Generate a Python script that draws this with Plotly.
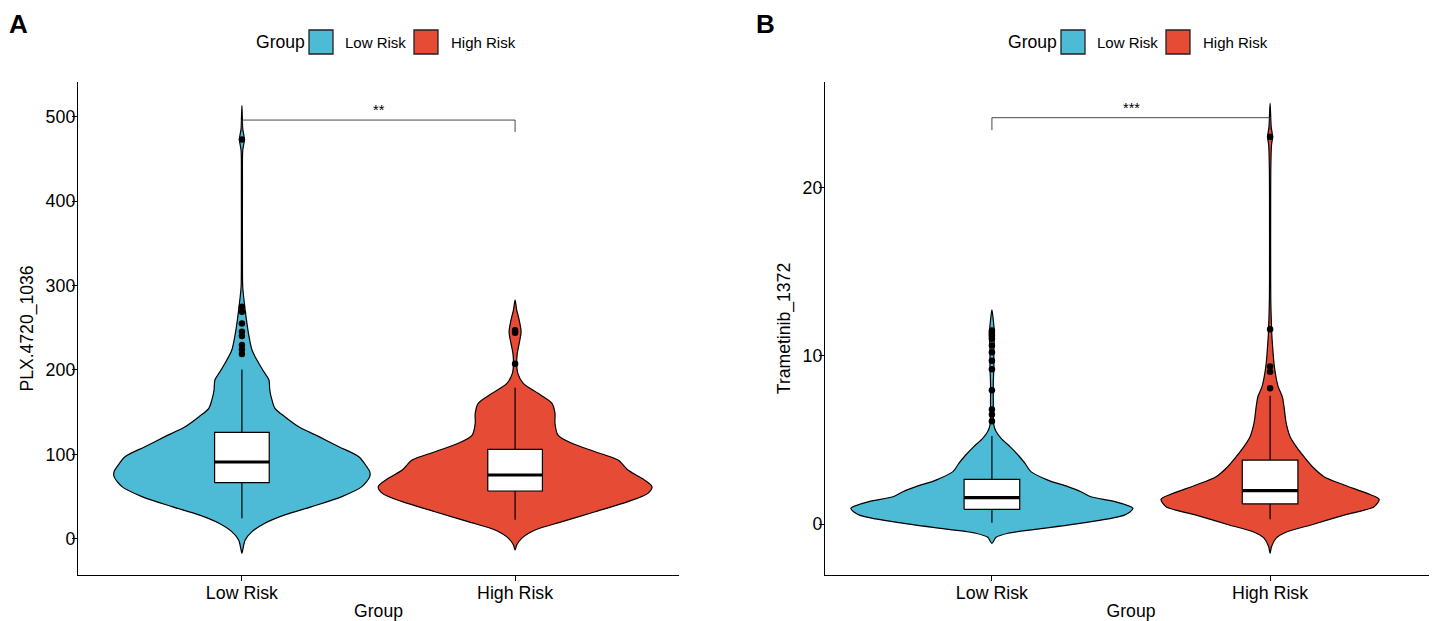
import plotly.graph_objects as go

# the page puts an 8px body margin round the figure, so the figure is drawn
# 8px smaller and all pixel positions below are page pixels minus that offset
OFF = 8
W, H = 1437 - OFF, 621 - OFF
FONT = "Liberation Sans, Arial, sans-serif"


def xp(px):
    return (px - OFF) / W


def yp(py):
    return 1 - (py - OFF) / H


groups = ["Low Risk", "High Risk"]
group_pos = [1, 2]
fill_colors = ["#4DBBD5", "#E64B35"]

# violin outlines: value levels and half widths (in x units)
a_low_y = [-17.3, -13.3, -1.5, 8.4, 18.3, 28.2, 38.0, 49.9, 61.7, 73.6, 79.4, 85.3,
           97.2, 109.0, 120.9, 132.7, 144.6, 154.5, 164.4, 176.1, 188.0, 197.9,
           211.7, 223.5, 243.3, 270.9, 298.6, 330, 420, 460, 473, 486, 500, 513]
a_low_w = [0, 0.003, 0.012, 0.037, 0.084, 0.157, 0.256, 0.366, 0.439, 0.468, 0.468, 0.457,
           0.428, 0.355, 0.282, 0.208, 0.157, 0.121, 0.110, 0.102, 0.099, 0.080,
           0.055, 0.037, 0.024, 0.012, 0.003, 0.002, 0.002, 0.003, 0.009, 0.003, 0.0015, 0]

a_high_y = [-13.4, -7.5, 0.4, 10.3, 20.2, 32.0, 43.9, 53.7, 61.6, 71.5, 81.4, 93.2,
            103.1, 113.0, 122.8, 136.6, 148.5, 160.4, 172.2, 184.1, 195.9, 207.7,
            219.6, 231.4, 245.2, 259.0, 270.9, 282.7]
a_high_w = [0, 0.006, 0.024, 0.073, 0.172, 0.293, 0.413, 0.486, 0.501, 0.464, 0.413, 0.377,
            0.293, 0.208, 0.157, 0.146, 0.146, 0.135, 0.084, 0.030, 0.010, 0.006,
            0.008, 0.015, 0.022, 0.015, 0.006, 0]

b_low_y = [-1.15, -0.79, -0.55, -0.32, 0.08, 0.54, 0.93, 1.33, 1.62, 1.92, 2.22, 2.61,
           3.11, 3.6, 4.1, 4.6, 5.09, 5.49, 5.88, 7.37, 8.36, 9.35, 10.34, 11.33, 12.12, 12.72]
b_low_w = [0, 0.015, 0.058, 0.155, 0.335, 0.478, 0.507, 0.442, 0.356, 0.320, 0.273, 0.201,
           0.140, 0.119, 0.094, 0.065, 0.033, 0.015, 0.007, 0.005, 0.005, 0.007, 0.007,
           0.009, 0.005, 0]

b_high_y = [-1.74, -1.35, -0.85, -0.46, -0.06, 0.53, 1.03, 1.47, 1.82, 2.32, 2.81, 3.31,
            4.0, 4.6, 5.19, 5.98, 6.97, 7.56, 8.16, 8.75, 9.55, 10.34, 11.33, 12.32,
            13.31, 15.0, 18.0, 21.0, 22.5, 23.0, 23.6, 25.0]
b_high_w = [0, 0.005, 0.021, 0.061, 0.147, 0.266, 0.374, 0.392, 0.349, 0.266, 0.194, 0.158,
            0.122, 0.094, 0.072, 0.058, 0.050, 0.044, 0.029, 0.021, 0.014, 0.010, 0.006,
            0.004, 0.0025, 0.002, 0.002, 0.0025, 0.005, 0.009, 0.004, 0]

# box statistics [Low Risk, High Risk]
a_q1 = [66.4, 56.5]
a_med = [90.9, 75.5]
a_q3 = [126.0, 105.9]
a_lo = [24.1, 22.5]
a_hi = [200.4, 178.9]

b_q1 = [0.87, 1.19]
b_med = [1.57, 1.98]
b_q3 = [2.65, 3.80]
b_lo = [0.08, 0.28]
b_hi = [5.23, 7.62]

# outliers
a_low_out = [473, 274.9, 269, 255.1, 245.2, 240.1, 229.4, 224.3, 218.7]
a_high_out = [247, 244, 207.3]
b_low_out = [11.5, 11.35, 11.2, 11.0, 10.6, 10.2, 9.7, 9.2, 7.95, 6.8, 6.5, 6.1]
b_high_out = [23.0, 11.57, 9.35, 9.05, 8.06]

# significance brackets
a_sig_top, a_sig_tip, a_sig_label = 496, 482, "**"
b_sig_top, b_sig_tip, b_sig_label = 24.14, 23.4, "***"

a_yticks = [0, 100, 200, 300, 400, 500]
b_yticks = [0, 10, 20]

BOX_W = 0.2

fig = go.Figure()


def violin_xy(center, ys, ws):
    xs = [center + w for w in ws] + [center - w for w in reversed(ws[1:-1])] + [center]
    yy = list(ys) + list(reversed(ys[1:-1])) + [ys[0]]
    return xs, yy


def add_panel(xa, ya, outlines, q1, med, q3, lo, hi, outs, sig):
    common = dict(xaxis=xa, yaxis=ya, hoverinfo="skip", showlegend=False)
    for i, (ys, ws) in enumerate(outlines):
        xs, yy = violin_xy(group_pos[i], ys, ws)
        fig.add_trace(go.Scatter(
            x=xs, y=yy, mode="lines", fill="toself", fillcolor=fill_colors[i],
            line=dict(color="black", width=1.2, shape="spline", smoothing=0.8), **common))
    for i in range(2):
        p = group_pos[i]
        l, r = p - BOX_W / 2, p + BOX_W / 2
        # whiskers
        fig.add_trace(go.Scatter(
            x=[p, p, None, p, p], y=[lo[i], q1[i], None, q3[i], hi[i]], mode="lines",
            line=dict(color="black", width=1.2), **common))
        # box body
        fig.add_trace(go.Scatter(
            x=[l, r, r, l, l], y=[q1[i], q1[i], q3[i], q3[i], q1[i]], mode="lines",
            fill="toself", fillcolor="white", line=dict(color="black", width=1.2), **common))
        # median
        fig.add_trace(go.Scatter(
            x=[l, r], y=[med[i], med[i]], mode="lines",
            line=dict(color="black", width=3.2), **common))
        fig.add_trace(go.Scatter(
            x=[p] * len(outs[i]), y=outs[i], mode="markers",
            marker=dict(color="black", size=6.5), **common))
    top, tip, label = sig
    fig.add_trace(go.Scatter(
        x=[group_pos[0], group_pos[0], group_pos[1], group_pos[1]],
        y=[tip, top, top, tip], mode="lines",
        line=dict(color="#333333", width=0.9), **common))
    fig.add_annotation(x=(group_pos[0] + group_pos[1]) / 2, y=top, xref=xa, yref=ya,
                       text=label, showarrow=False, yanchor="bottom",
                       font=dict(size=14.5, color="black"))


add_panel("x", "y", [(a_low_y, a_low_w), (a_high_y, a_high_w)],
          a_q1, a_med, a_q3, a_lo, a_hi, [a_low_out, a_high_out],
          (a_sig_top, a_sig_tip, a_sig_label))
add_panel("x2", "y2", [(b_low_y, b_low_w), (b_high_y, b_high_w)],
          b_q1, b_med, b_q3, b_lo, b_hi, [b_low_out, b_high_out],
          (b_sig_top, b_sig_tip, b_sig_label))

axis_style = dict(
    showline=True, linecolor="black", linewidth=1.3, ticks="outside", ticklen=5,
    tickwidth=1.3, tickcolor="black", showgrid=False, zeroline=False,
    tickfont=dict(size=17.8, color="black"), fixedrange=True,
)
x_style = dict(axis_style, ticklabelstandoff=-4)
y_style = dict(axis_style, ticklabelstandoff=-7)

y_dom = [yp(575), yp(82)]
fig.update_layout(
    width=W, height=H, margin=dict(l=0, r=0, t=0, b=0),
    paper_bgcolor="white", plot_bgcolor="white",
    font=dict(family=FONT, color="black"),
    xaxis=dict(x_style, domain=[xp(78), xp(679)], range=[0.4, 2.6], anchor="y",
               tickvals=group_pos, ticktext=groups,
               title=dict(text="Group", font=dict(size=17.6), standoff=5)),
    yaxis=dict(y_style, domain=y_dom, range=[-43, 541.1], anchor="x",
               tickvals=a_yticks,
               title=dict(text="PLX.4720_1036", font=dict(size=17.6), standoff=7)),
    xaxis2=dict(x_style, domain=[xp(825), 1.0], range=[0.4, 2.6], anchor="y2",
                tickvals=group_pos, ticktext=groups,
                title=dict(text="Group", font=dict(size=17.6), standoff=5)),
    yaxis2=dict(y_style, domain=y_dom, range=[-3.03, 26.26], anchor="x2",
                tickvals=b_yticks,
                title=dict(text="Trametinib_1372", font=dict(size=17.6), standoff=7)),
    showlegend=False,
)

# panel letters
for letter, px in [("A", 8), ("B", 755)]:
    fig.add_annotation(x=xp(px), y=1, xref="paper", yref="paper",
                       xanchor="left", yanchor="top", showarrow=False, borderpad=0,
                       text=f"<b>{letter}</b>", font=dict(size=26, color="black"))

# legends drawn as ggplot-style keys
for start in [254, 1006]:
    yc = yp(42)
    fig.add_annotation(x=xp(start), y=yc, xref="paper", yref="paper", xanchor="left",
                       yanchor="middle", showarrow=False, text="Group",
                       font=dict(size=17.6, color="black"))
    for k, (off_key, off_lab) in enumerate([(55, 89), (160, 195)]):
        x0 = start + off_key
        fig.add_shape(type="rect", xref="paper", yref="paper",
                      x0=xp(x0), x1=xp(x0 + 24), y0=yp(54), y1=yp(30),
                      fillcolor=fill_colors[k], line=dict(color="#222222", width=1.3))
        fig.add_annotation(x=xp(start + off_lab), y=yc, xref="paper", yref="paper",
                           xanchor="left", yanchor="middle", showarrow=False,
                           text=groups[k], font=dict(size=15, color="black"))

fig.write_html("out.html")
